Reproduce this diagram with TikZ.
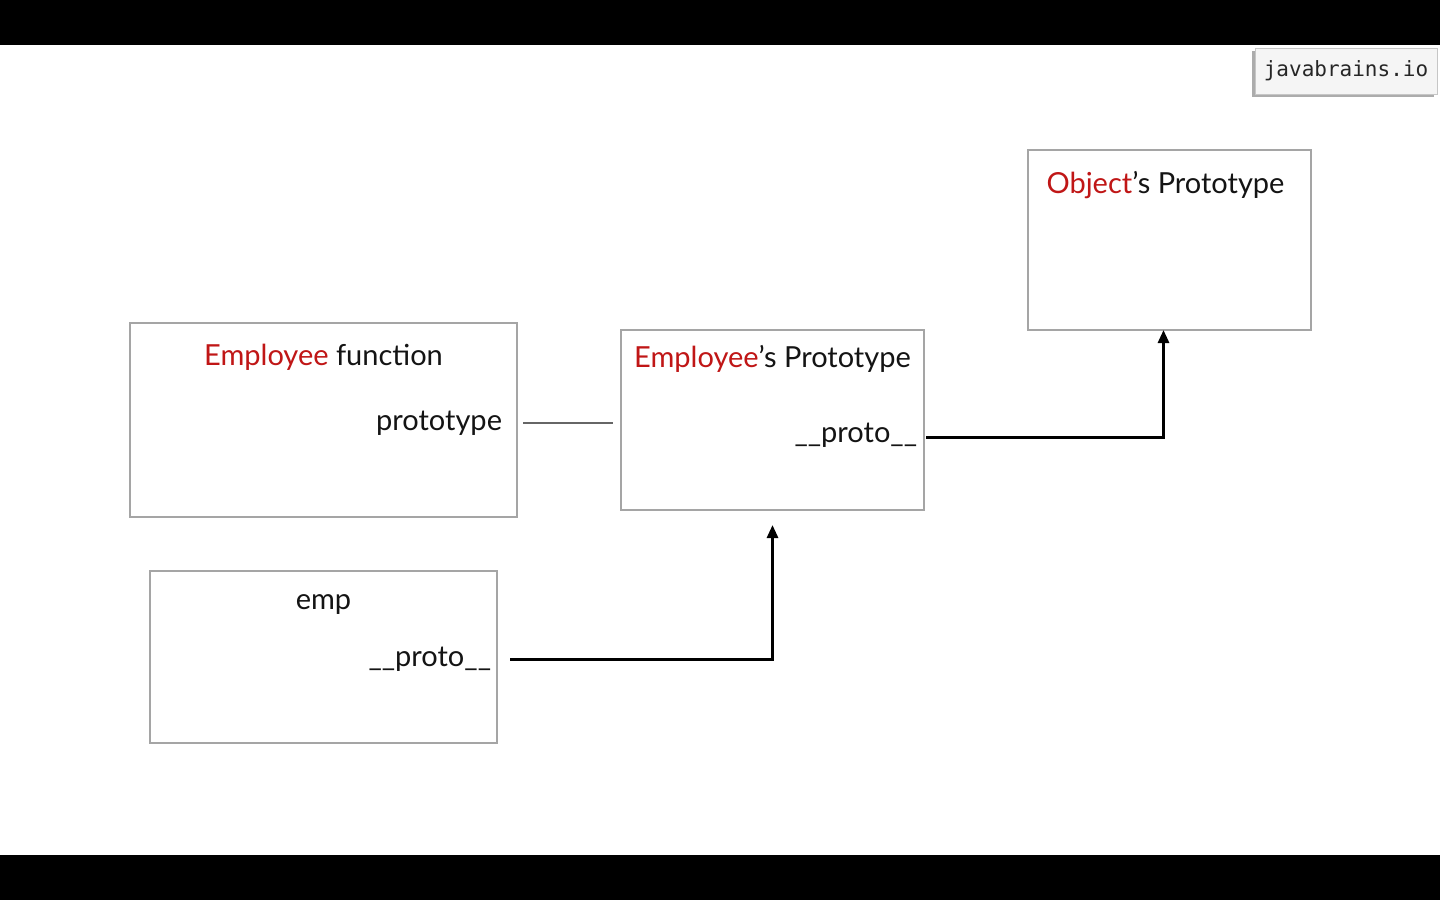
\documentclass[tikz,border=0pt]{standalone}
\usepackage{fontspec}
\setmainfont{Lato}
\setmonofont{DejaVu Sans Mono}
\usetikzlibrary{arrows.meta, positioning}
\definecolor{jbred}{RGB}{192, 22, 22}
\definecolor{jbtext}{RGB}{20, 20, 20}
\definecolor{kotakabu}{RGB}{165, 165, 165}

\begin{document}
\begin{tikzpicture}[x=1pt, y=-1pt,
    font=\fontsize{29}{35}\selectfont, text=jbtext,
    kotak/.style={draw=kotakabu, line width=1.3pt, fill=white, inner sep=0pt, outer sep=0pt},
    label/.style={inner sep=0pt, outer sep=0pt},
    panah/.style={-{Triangle[length=13pt, width=11pt]}, line width=2.8pt, black},
    garis/.style={line width=2pt, gray!80!black}
  ]
    \fill[black] (0,0) rectangle (1440,900);
    \fill[white] (0,45) rectangle (1440,855);
    \useasboundingbox (0,0) rectangle (1440,900);

    \fill[gray!65] (1252,51) rectangle (1434,97);
    \node[draw=gray!45, fill=gray!8, minimum width=182pt, minimum height=46pt,
          font=\ttfamily\fontsize{21}{24}\selectfont, text=black!85] (badge) at (1346,71) {javabrains.io};

    \node[kotak, minimum width=387pt, minimum height=194pt] (fungsi) at (323.5,420) {};
    \node[kotak, minimum width=303pt, minimum height=180pt] (protoemp) at (772.5,420) {};
    \node[kotak, minimum width=283pt, minimum height=180pt] (protoobj) at (1169.5,240) {};
    \node[kotak, minimum width=347pt, minimum height=172pt] (emp) at (323.5,657) {};

    \node[label, anchor=base] (judulfungsi) at (323.5,365) {\textcolor{jbred}{Employee} function};
    \node[label, anchor=base east] (prototype) at (502,430) {prototype};
    \node[label, anchor=base] (judulprotoemp) at (772.5,367) {\textcolor{jbred}{Employee}’s Prototype};
    \node[label, anchor=base east] (protoA) at (917,442) {\_\_proto\_\_};
    \node[label, anchor=base] (judulprotoobj) at (1165.5,193) {\textcolor{jbred}{Object}’s Prototype};
    \node[label, anchor=base] (judulemp) at (323.5,609) {emp};
    \node[label, anchor=base east] (protoB) at (491,666) {\_\_proto\_\_};

    \draw[garis] ([xshift=21pt]prototype.east) -- ([xshift=-8pt]prototype.east -| protoemp.west);
    \draw[panah] ([xshift=2pt, yshift=-3pt]protoA.east -| protoemp.east) -| ([xshift=-6pt]protoobj.south);
    \draw[panah, shorten >=15pt] ([xshift=19pt, yshift=-1pt]protoB.east) -| (protoemp.south);
  \end{tikzpicture}
\end{document}
